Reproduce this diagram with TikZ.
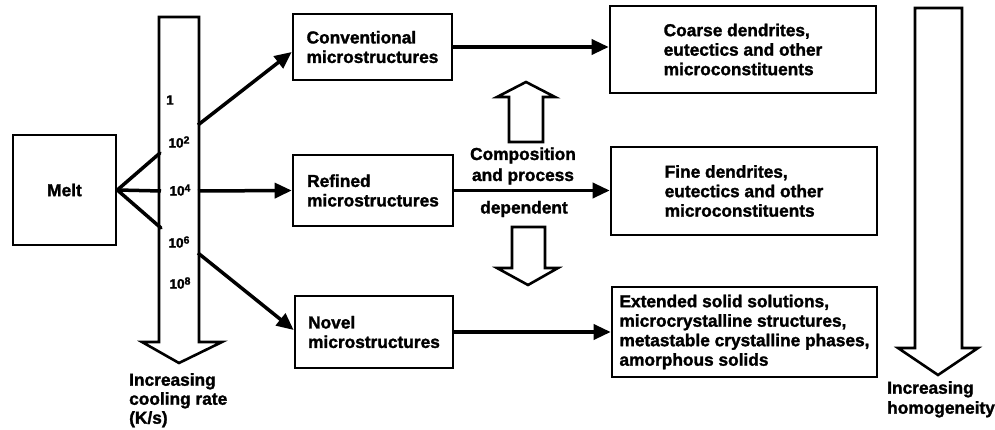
\documentclass[tikz,border=0pt]{standalone}
\usepackage{fontspec}
\setmainfont{Liberation Sans}[BoldFeatures={FakeBold=1.6}]
\usetikzlibrary{arrows.meta}
\newcommand\mysup[1]{\raisebox{0.55ex}{\fontsize{10.5}{10.5}\selectfont #1}}
\begin{document}
\begin{tikzpicture}[x=1pt,y=-1pt,
  box/.style={draw, line width=2.6pt, align=left, inner sep=0pt,
    font=\bfseries\fontsize{17.3}{19.5}\selectfont},
  lbl/.style={inner sep=0pt, font=\bfseries\fontsize{17.3}{19}\selectfont},
  num/.style={inner sep=0pt, font=\bfseries\fontsize{13.5}{14}\selectfont},
  conn/.style={line width=3.5pt},
  arr/.style={conn, -{Triangle[length=17pt,width=15pt]}},
  hollow/.style={draw, line width=2.6pt, line join=miter, fill=white}]
\useasboundingbox (0,0) rectangle (995,430);

% cooling rate column
\draw[hollow] (159,17) -- (199,17) -- (199,342) -- (222,342) -- (179,363)
  -- (142,342) -- (159,342) -- cycle;
\node[num] (r0) at (170,100) {1};
\node[num] (r2) at (179,142) {10\mysup{2}};
\node[num] (r4) at (180,190) {10\mysup{4}};
\node[num] (r6) at (179,242) {10\mysup{6}};
\node[num] (r8) at (180,283) {10\mysup{8}};
\node[lbl, align=left, anchor=north west] (cool) at (129,373)
  {Increasing\\cooling rate\\(K/s)};

% homogeneity arrow
\draw[hollow] (915,8) -- (962,8) -- (962,348) -- (978,348) -- (938,375)
  -- (898,348) -- (915,348) -- cycle;
\node[lbl, align=left, anchor=north west, font=\bfseries\fontsize{17.3}{20}\selectfont] (homo) at (887,381)
  {Increasing\\homogeneity};

% boxes
\node[box, minimum width=103pt, minimum height=110pt] (melt) at (64.5,190) {Melt};
\node[box, minimum width=159pt, minimum height=66pt] (conv) at (372.5,47)
  {Conventional\\microstructures};
\node[box, minimum width=160pt, minimum height=71pt] (refd) at (373,190.5)
  {Refined\\microstructures};
\node[box, minimum width=158pt, minimum height=72pt] (novel) at (374,332)
  {Novel\\microstructures};
\node[box, minimum width=266pt, minimum height=87pt] (coarse) at (743,49.5)
  {Coarse dendrites,\\eutectics and other\\microconstituents};
\node[box, minimum width=266pt, minimum height=88pt] (fine) at (744,191)
  {Fine dendrites,\\eutectics and other\\microconstituents};
\node[box, minimum width=265pt, minimum height=90pt] (ext) at (744.5,332)
  {Extended solid solutions,\\microcrystalline structures,\\metastable crystalline phases,\\amorphous solids};

% composition text and hollow arrows
\node[lbl, align=center, font=\bfseries\fontsize{17.3}{21}\selectfont] (comp) at (523,166)
  {Composition\\and process};
\node[lbl] (dep) at (524,209) {dependent};
\draw[hollow] (509,142) -- (509,97) -- (497,97) -- (526,82) -- (555,97)
  -- (543,97) -- (543,142) -- cycle;
\draw[hollow] (512,227) -- (545,227) -- (545,268) -- (558,268) -- (528,285)
  -- (497,268) -- (512,268) -- cycle;

% points on the column
\coordinate (a2) at (160,153);
\coordinate (a4) at (161,191);
\coordinate (a6) at (161,228);
\coordinate (b2) at (198,125);
\coordinate (b4) at (198,191);
\coordinate (b6) at (198,253);

% connectors
\draw[conn, line cap=round] (melt.east) -- (a2);
\draw[conn] (melt.east) -- (a4);
\draw[conn, line cap=round] (melt.east) -- (a6);
\draw[arr] (b2) -- ([yshift=-5pt]conv.west);
\draw[arr] (b4) -- (refd.west);
\draw[arr] (b6) -- ([yshift=2pt]novel.west);
\draw[arr] (conv.east) -- (conv.east -| coarse.west);
\draw[arr] (refd.east) -- (refd.east -| fine.west);
\draw[arr] (novel.east) -- (novel.east -| ext.west);
\end{tikzpicture}
\end{document}
